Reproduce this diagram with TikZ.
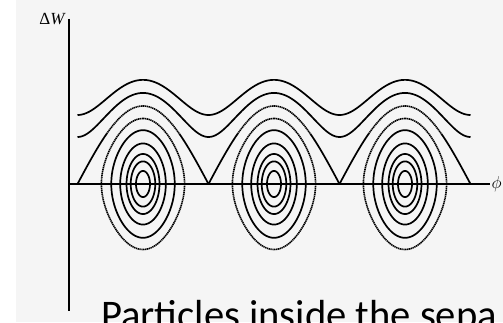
\documentclass[tikz,border=0pt]{standalone}
\usepackage{fontspec}
\newfontfamily\slidefont{Carlito}
\newfontfamily\figfont{Liberation Serif}
\usetikzlibrary{positioning}
\newcommand{\bucketunit}{0.36389pt}% 65.5pt per 180 degrees of phase
\newcommand{\sepheight}{78}

\begin{document}
\begin{tikzpicture}[x=1pt,y=1pt,
    curve/.style={black,line width=1.7pt},
    dotcurve/.style={black,line width=1.6pt,dash pattern=on 1.3pt off 0.6pt},
    axis/.style={black,line width=1.3pt},
    axislabel/.style={font=\figfont\fontsize{17}{20}\selectfont}]
    \useasboundingbox (0,0) rectangle (503,322);
    \clip (0,0) rectangle (503,322);
    \fill[black!4] (16,0) rectangle (503,322);

    \coordinate (o) at (69,138);
    \coordinate (ytop) at (69,303);
    \coordinate (ybot) at (69,11);
    \coordinate (xend) at (490,138);

    \draw[axis] (ytop) -- (ybot);
    \draw[axis] (o) -- (xend);
    \node[axislabel,left=1pt of ytop] (dw) {Δ\itshape W};
    \node[axislabel,right=1.5pt of xend,inner sep=0pt] (phi) {$\phi$};

    % phase plane, x in degrees of phase
    \begin{scope}[shift={(143,138)},x=\bucketunit]
      % running trajectories
      \foreach \w in {69,47}
        \draw[curve] plot[domain=-180:900,samples=240,smooth]
          (\x,{sqrt(\w*\w+\sepheight*\sepheight*cos(\x/2)*cos(\x/2))});
      % separatrix and buckets
      \foreach \c in {0,360,720} {
        \draw[curve] plot[domain=-180:-100,samples=30] ({\x+\c},{\sepheight*cos(\x/2)});
        \draw[dotcurve] plot[domain=-100:100,samples=60,smooth] ({\x+\c},{\sepheight*cos(\x/2)});
        \draw[curve] plot[domain=100:180,samples=30] ({\x+\c},{\sepheight*cos(\x/2)});
        \foreach \s in {0.167,0.29,0.385,0.52,0.69}
          \draw[curve] plot[domain=0:360,samples=91,smooth]
            ({\c+2*asin(\s*sin(\x))},{\sepheight*\s*cos(\x)});
        \draw[dotcurve] plot[domain=0:360,samples=91,smooth]
          ({\c+2*asin(0.84*sin(\x))},{\sepheight*0.84*cos(\x)});
      }
    \end{scope}

    \node[anchor=base west,inner sep=0pt,font=\slidefont\fontsize{40.6}{48}\selectfont]
      (note) at (101,-6) {Particles inside the sepa};
\end{tikzpicture}
\end{document}
